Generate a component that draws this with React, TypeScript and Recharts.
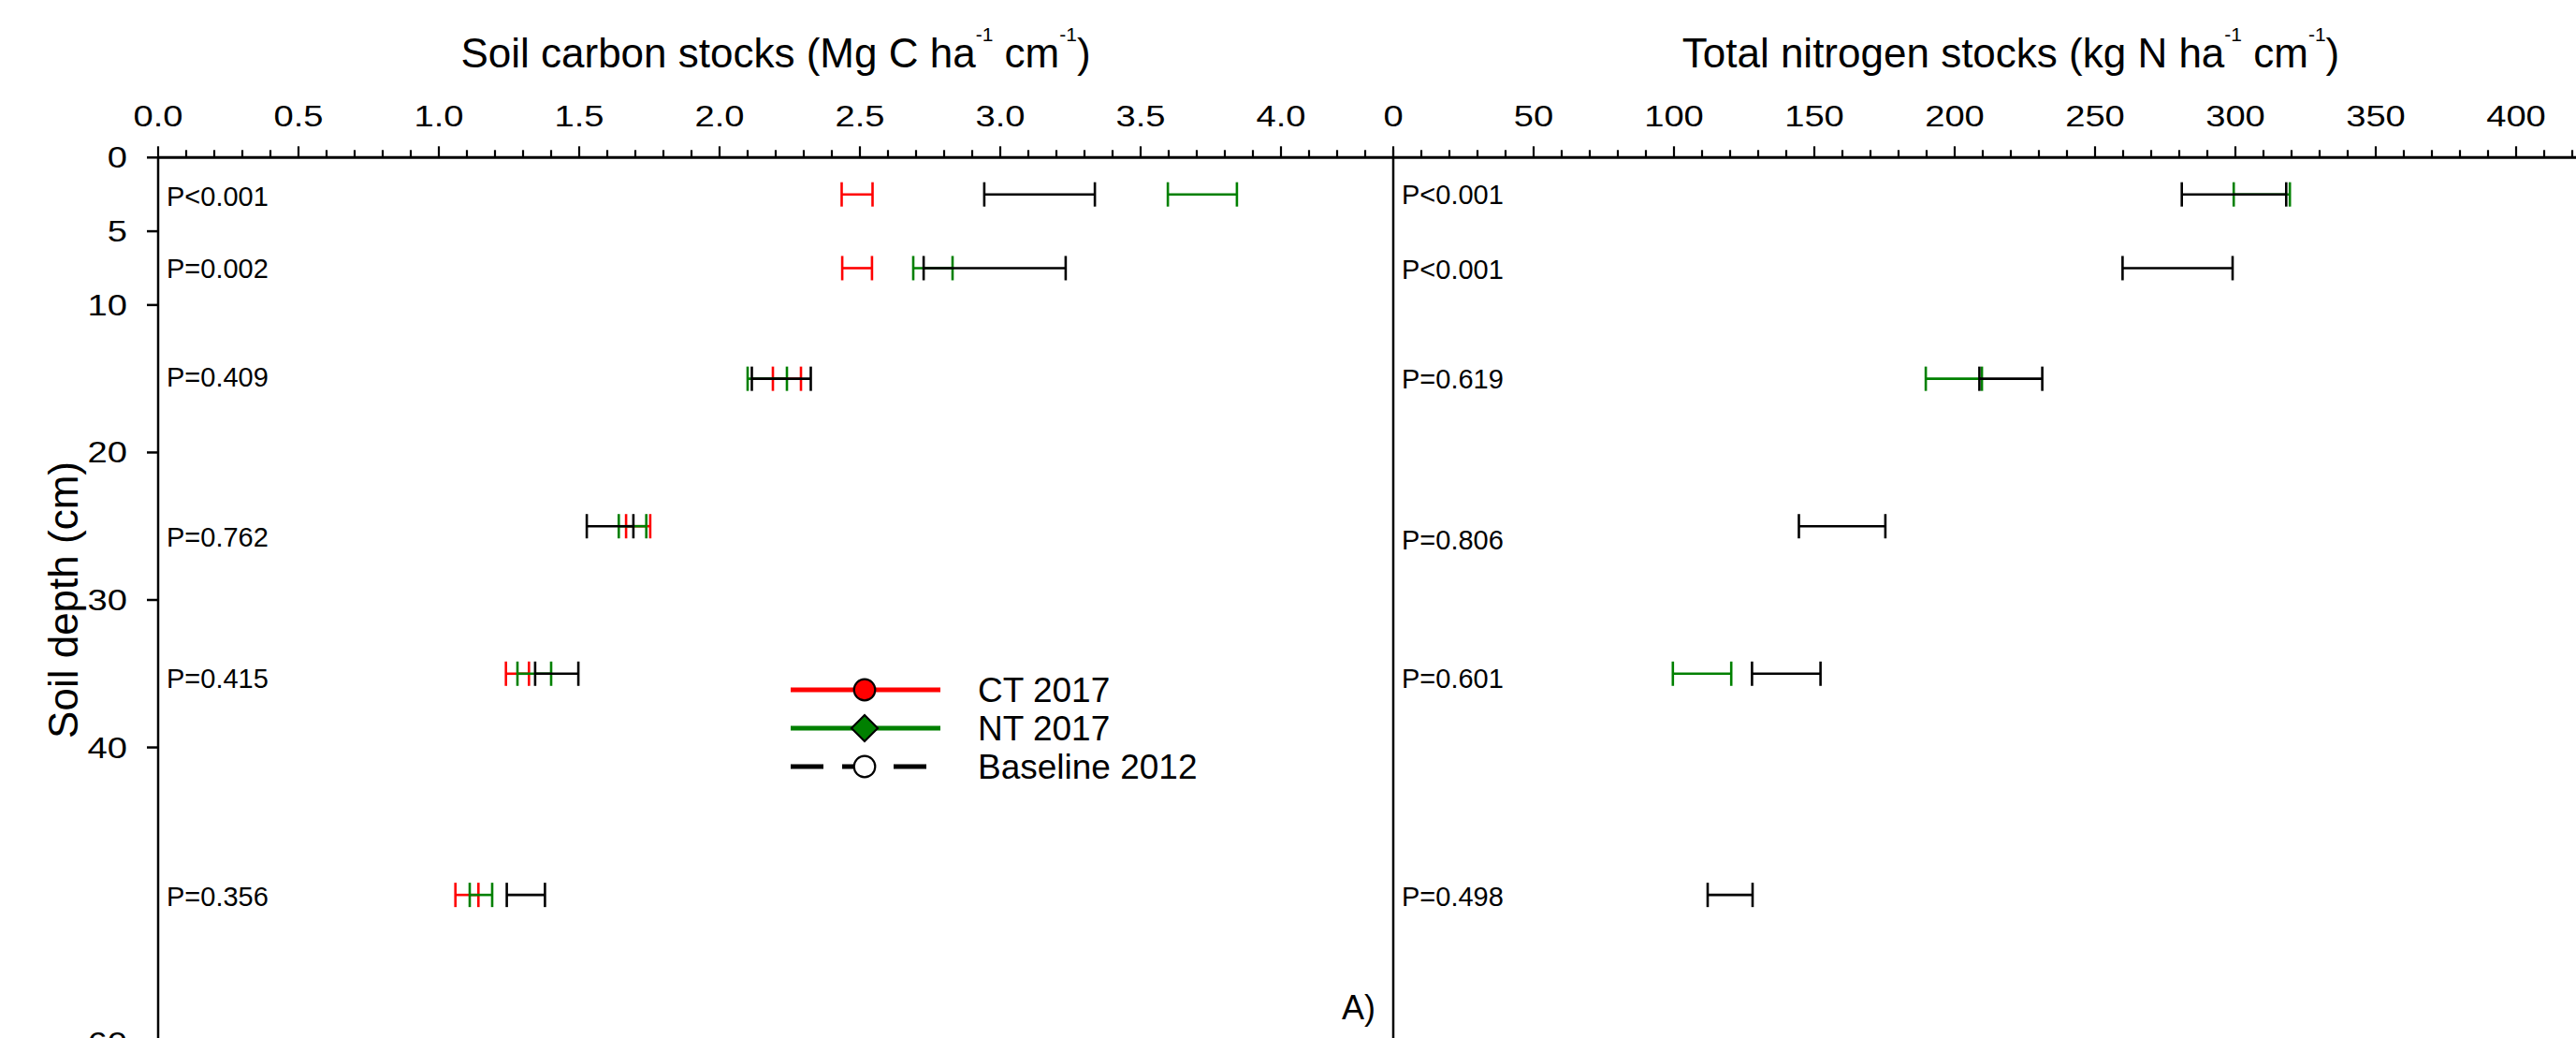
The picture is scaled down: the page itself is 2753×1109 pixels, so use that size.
import React from 'react';
import { ScatterChart, Scatter, XAxis, YAxis, ErrorBar, Legend, ReferenceDot } from 'recharts';

const FONT = '"Liberation Sans", Arial, Helvetica, sans-serif';

// depth layer midpoints (cm)
const depths = [2.5, 7.5, 15, 25, 35, 50];
const depthTicks = [0, 5, 10, 20, 30, 40, 60];

// Soil carbon stocks (Mg C ha-1 cm-1)
const ctCarbon = [2.49, 2.49, 2.24, 1.71, 1.28, 1.1];
const ctCarbonErr = [0.055, 0.053, 0.05, 0.043, 0.041, 0.041];
const ntCarbon = [3.72, 2.76, 2.17, 1.69, 1.34, 1.15];
const ntCarbonErr = [0.123, 0.07, 0.07, 0.049, 0.06, 0.04];
const baseCarbon = [3.14, 2.98, 2.22, 1.61, 1.42, 1.31];
const baseCarbonErr = [0.197, 0.253, 0.105, 0.083, 0.077, 0.068];

// Total nitrogen stocks (kg N ha-1 cm-1)
const ntNitrogen: (number | null)[] = [309.4, null, 199.7, null, 110, null];
const ntNitrogenErr: (number | null)[] = [10, null, 10, null, 10.4, null];
const baseNitrogen = [299.5, 279.4, 220, 159.9, 140, 120];
const baseNitrogenErr = [18.6, 19.6, 11.2, 15.4, 12.2, 8];

// axis ticks
const carbonTickLabels = [0, 0.5, 1, 1.5, 2, 2.5, 3, 3.5, 4];
const nitrogenTickLabels = [0, 50, 100, 150, 200, 250, 300, 350, 400];
const carbonDomain: [number, number] = [0, 4.4];
const nitrogenDomain: [number, number] = [0, 440];
const carbonMinorTicks = Array.from({ length: 45 }, (_, i) => i / 10);
const nitrogenMinorTicks = Array.from({ length: 45 }, (_, i) => i * 10);

// P-value annotations
const pLabelsCarbon = ['P<0.001', 'P=0.002', 'P=0.409', 'P=0.762', 'P=0.415', 'P=0.356'];
const pDepthsCarbon = [2.6, 7.5, 14.9, 25.7, 35.3, 50.1];
const pLabelsNitrogen = ['P<0.001', 'P<0.001', 'P=0.619', 'P=0.806', 'P=0.601', 'P=0.498'];
const pDepthsNitrogen = [2.5, 7.6, 15, 25.9, 35.3, 50.1];

const seriesNames = ['CT 2017', 'NT 2017', 'Baseline 2012'];
const RED = '#ff0000';
const GREEN = '#008000';
const BLACK = '#000000';

const makeSeries = (vals: (number | null)[], errs: (number | null)[]) =>
  depths
    .map((d, i) => (vals[i] == null ? null : { x: vals[i] as number, y: d, err: errs[i] as number }))
    .filter((p) => p !== null) as { x: number; y: number; err: number }[];

const makeLabels = (labels: string[], ds: number[]) => labels.map((t, i) => ({ x: 0, y: ds[i], label: t }));

const TICK_FONT = 31;
const TICK_SCALE = 1.23;

const makeTopTick = (majors: number[], fmt: (v: number) => string) => (props: any) => {
  const { x, y, payload } = props;
  const v = payload.value;
  const isMajor = majors.some((m) => Math.abs(m - v) < 1e-6);
  return (
    <g>
      <line x1={x} x2={x} y1={y} y2={y - (isMajor ? 12 : 8)} stroke={BLACK} strokeWidth={2.2} />
      {isMajor && (
        <text
          transform={`translate(${x},${y - 33}) scale(${TICK_SCALE},1)`}
          textAnchor="middle"
          fontSize={TICK_FONT}
          fontFamily={FONT}
          fill={BLACK}
        >
          {fmt(v)}
        </text>
      )}
    </g>
  );
};

const LeftTick = (props: any) => {
  const { x, y, payload } = props;
  return (
    <g>
      <line x1={x} x2={x - 12} y1={y} y2={y} stroke={BLACK} strokeWidth={2.5} />
      <text
        transform={`translate(${x - 33},${y + 11}) scale(${TICK_SCALE},1)`}
        textAnchor="end"
        fontSize={TICK_FONT}
        fontFamily={FONT}
        fill={BLACK}
      >
        {payload.value}
      </text>
    </g>
  );
};

const makeTitle = (pre: string, mid: string, post: string) => (props: any) => {
  const vb = props && props.viewBox ? props.viewBox : null;
  const cx = vb && typeof vb.x === 'number' ? vb.x + vb.width / 2 : 829;
  return (
    <text x={cx} y={72} textAnchor="middle" fontSize={44} fontFamily={FONT} fill={BLACK}>
      <tspan>{pre}</tspan>
      <tspan dy={-28} fontSize={21}>-1</tspan>
      <tspan dy={28}>{mid}</tspan>
      <tspan dy={-28} fontSize={21}>-1</tspan>
      <tspan dy={28}>{post}</tspan>
    </text>
  );
};

const renderYLabel = (props: any) => {
  const vb = props && props.viewBox ? props.viewBox : null;
  const cy = vb && typeof vb.y === 'number' ? vb.y + vb.height / 2 : 641;
  return (
    <text
      x={83}
      y={cy}
      transform={`rotate(-90, 83, ${cy})`}
      textAnchor="middle"
      fontSize={44}
      fontFamily={FONT}
      fill={BLACK}
    >
      Soil depth (cm)
    </text>
  );
};

const PLabelShape = (p: any) => (
  <text x={p.cx + 9} y={p.cy + 10.4} fontSize={29} fontFamily={FONT} fill={BLACK}>
    {p.payload.label}
  </text>
);

const Nothing = () => <g />;

const legendStyle: Record<string, { color: string; dash?: string; marker: string; fill: string }> = {
  'CT 2017': { color: RED, marker: 'circle', fill: RED },
  'NT 2017': { color: GREEN, marker: 'diamond', fill: GREEN },
  'Baseline 2012': { color: BLACK, dash: '35 20', marker: 'circle', fill: '#ffffff' },
};

const renderLegend = (props: any) => {
  const fromPayload: string[] =
    props && props.payload && props.payload.length
      ? props.payload.map((p: any) => p.value).filter((v: string) => legendStyle[v])
      : [];
  const names = (fromPayload.length ? fromPayload : seriesNames)
    .slice()
    .sort((a, b) => seriesNames.indexOf(a) - seriesNames.indexOf(b));
  return (
    <svg width={480} height={135} style={{ display: 'block', overflow: 'visible' }}>
      {names.map((n, i) => {
        const s = legendStyle[n];
        const y = 27 + i * 41;
        const mx = 94;
        return (
          <g key={n}>
            <line x1={15} x2={175} y1={y} y2={y} stroke={s.color} strokeWidth={5} strokeDasharray={s.dash} />
            {s.marker === 'circle' ? (
              <circle cx={mx} cy={y} r={11.3} fill={s.fill} stroke={BLACK} strokeWidth={2.2} />
            ) : (
              <polygon
                points={`${mx},${y - 14} ${mx + 14},${y} ${mx},${y + 14} ${mx - 14},${y}`}
                fill={s.fill}
                stroke={BLACK}
                strokeWidth={2.2}
              />
            )}
            <text x={215} y={y + 13.3} fontSize={37} fontFamily={FONT} fill={BLACK}>
              {n}
            </text>
          </g>
        );
      })}
    </svg>
  );
};

const X_AXIS_H = 168.3;
const CHART_H = 1134;
const MARGIN_BOTTOM = CHART_H - X_AXIS_H - 945.4;

const EB = (color: string) => (
  <ErrorBar dataKey="err" direction="x" width={13} stroke={color} strokeWidth={2.6} isAnimationActive={false} />
);

export default function App() {
  const ctC = makeSeries(ctCarbon, ctCarbonErr);
  const ntC = makeSeries(ntCarbon, ntCarbonErr);
  const baseC = makeSeries(baseCarbon, baseCarbonErr);
  const ntN = makeSeries(ntNitrogen, ntNitrogenErr);
  const baseN = makeSeries(baseNitrogen, baseNitrogenErr);
  const pC = makeLabels(pLabelsCarbon, pDepthsCarbon);
  const pN = makeLabels(pLabelsNitrogen, pDepthsNitrogen);

  return (
    <div
      style={{
        position: 'absolute',
        left: 0,
        top: 0,
        width: 2753,
        height: 1109,
        overflow: 'hidden',
        background: '#ffffff',
        fontFamily: FONT,
      }}
    >
      <div style={{ position: 'absolute', left: 0, top: 0 }}>
        <ScatterChart width={1500} height={CHART_H} margin={{ top: 0, right: 11, bottom: MARGIN_BOTTOM, left: 0 }}>
          <XAxis
            type="number"
            dataKey="x"
            orientation="top"
            height={X_AXIS_H}
            domain={carbonDomain}
            ticks={carbonMinorTicks}
            interval={0}
            tickSize={0}
            tickMargin={0}
            tickLine={false}
            axisLine={{ stroke: BLACK, strokeWidth: 3 }}
            tick={makeTopTick(carbonTickLabels, (v) => v.toFixed(1))}
            label={makeTitle('Soil carbon stocks (Mg C ha', ' cm', ')')}
          />
          <YAxis
            type="number"
            dataKey="y"
            reversed
            width={169}
            domain={[0, 60]}
            ticks={depthTicks}
            interval={0}
            tickSize={0}
            tickMargin={0}
            tickLine={false}
            axisLine={{ stroke: BLACK, strokeWidth: 2.5 }}
            tick={LeftTick}
            label={renderYLabel}
          />
          <Scatter name="CT 2017" data={ctC} fill={RED} shape={Nothing} isAnimationActive={false}>
            {EB(RED)}
          </Scatter>
          <Scatter name="NT 2017" data={ntC} fill={GREEN} shape={Nothing} isAnimationActive={false}>
            {EB(GREEN)}
          </Scatter>
          <Scatter name="Baseline 2012" data={baseC} fill={BLACK} shape={Nothing} isAnimationActive={false}>
            {EB(BLACK)}
          </Scatter>
          <Scatter name="pvals" data={pC} legendType="none" shape={PLabelShape} isAnimationActive={false} />
          <ReferenceDot
            x={4.337}
            y={58.43}
            r={0}
            ifOverflow="visible"
            shape={(p: any) => (
              <text x={p.cx} y={p.cy} textAnchor="end" fontSize={36} fontFamily={FONT} fill={BLACK}>
                A)
              </text>
            )}
          />
          <Legend
            layout="vertical"
            align="center"
            verticalAlign="middle"
            content={renderLegend}
            wrapperStyle={{ left: 830, top: 710, width: 480, height: 135 }}
          />
        </ScatterChart>
      </div>
      <div style={{ position: 'absolute', left: 1478, top: 0 }}>
        <ScatterChart width={1342} height={CHART_H} margin={{ top: 0, right: 11, bottom: MARGIN_BOTTOM, left: 0 }}>
          <XAxis
            type="number"
            dataKey="x"
            orientation="top"
            height={X_AXIS_H}
            domain={nitrogenDomain}
            ticks={nitrogenMinorTicks}
            interval={0}
            tickSize={0}
            tickMargin={0}
            tickLine={false}
            axisLine={{ stroke: BLACK, strokeWidth: 3 }}
            tick={makeTopTick(nitrogenTickLabels, (v) => String(v))}
            label={makeTitle('Total nitrogen stocks (kg N ha', ' cm', ')')}
          />
          <YAxis
            type="number"
            dataKey="y"
            reversed
            width={11}
            domain={[0, 60]}
            ticks={depthTicks}
            tick={false}
            tickLine={false}
            axisLine={{ stroke: BLACK, strokeWidth: 2.5 }}
          />
          <Scatter name="NT 2017" data={ntN} fill={GREEN} shape={Nothing} isAnimationActive={false}>
            {EB(GREEN)}
          </Scatter>
          <Scatter name="Baseline 2012" data={baseN} fill={BLACK} shape={Nothing} isAnimationActive={false}>
            {EB(BLACK)}
          </Scatter>
          <Scatter name="pvals" data={pN} legendType="none" shape={PLabelShape} isAnimationActive={false} />
        </ScatterChart>
      </div>
    </div>
  );
}
